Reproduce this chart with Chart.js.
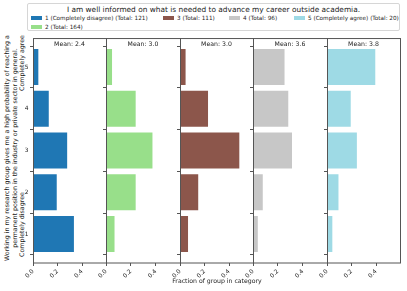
<!DOCTYPE html>
<html>
<head>
<meta charset="utf-8">
<script src="https://cdn.jsdelivr.net/npm/chart.js@4.4.0/dist/chart.umd.min.js"></script>
<style>
  body { margin: 0; background: #fff; font-family: "DejaVu Sans", sans-serif; color: #222; }
  #wrap { position: relative; width: 407px; height: 291px; overflow: hidden; background: #fff; }
  canvas { position: absolute; }
  .abs { position: absolute; white-space: nowrap; }
  #legend { position: absolute; left: 27px; top: 3px; width: 371px; height: 26px;
            border: 1px solid #d6d6d6; border-radius: 2px; background: #fff; z-index: 5; }
  #legend .title { position: absolute; left: 0; right: 0; top: 1px; text-align: center; font-size: 7.4px; }
  #legend .item { position: absolute; font-size: 5.7px; line-height: 7px; }
  #legend .sw { display: inline-block; width: 11px; height: 4px; margin-right: 3px; vertical-align: 0px; }
  #ylab { position: absolute; left: 148px; top: 148px; width: 240px; transform-origin: 0 0;
          font-size: 6.3px; line-height: 7.6px; text-align: center; }
  #xlab { left: 0; width: 434px; top: 277px; text-align: center; font-size: 6.2px; color: #222; z-index: 6; }
</style>
</head>
<body>
<div id="wrap">
  <div id="legend"><div class="title">I am well informed on what is needed to advance my career outside academia.</div></div>
  <div id="ylab"></div>
  <div class="abs" id="xlab">Fraction of group in category</div>
</div>
<script>
// answers on the y axis (1 = completely disagree ... 5 = completely agree)
const categories = [1, 2, 3, 4, 5];
// groups, one panel each
const groupNames = ["1 (Completely disagree)", "2", "3", "4", "5 (Completely agree)"];
const groupTotals = [121, 164, 111, 96, 20];
const groupMeans = [2.4, 3.0, 3.0, 3.6, 3.8];
const colors = ["#1f77b4", "#98df8a", "#8c564b", "#c7c7c7", "#9edae5"];
// fraction of group in each category (1..5)
const frac1 = [0.34, 0.20, 0.285, 0.135, 0.05];
const frac2 = [0.075, 0.245, 0.38, 0.245, 0.055];
const frac3 = [0.072, 0.155, 0.49, 0.235, 0.052];
const frac4 = [0.045, 0.085, 0.32, 0.29, 0.26];
const frac5 = [0.05, 0.10, 0.25, 0.20, 0.40];
const fractions = [frac1, frac2, frac3, frac4, frac5];
const xTicks = [0, 0.2, 0.4];

const wrap = document.getElementById("wrap");

// legend (matplotlib ncol=4 layout)
const legendPos = [[3, 11], [3, 19.5], [135, 11], [201, 11], [266, 11]];
const legend = document.getElementById("legend");
groupNames.forEach((n, i) => {
  const d = document.createElement("div");
  d.className = "item";
  d.style.left = legendPos[i][0] + "px";
  d.style.top = legendPos[i][1] + "px";
  d.innerHTML = '<span class="sw" style="background:' + colors[i] + '"></span>' +
    n + " (Total: " + groupTotals[i] + ")";
  legend.appendChild(d);
});

// y label, three lines
const ylab = document.getElementById("ylab");
ylab.innerHTML =
  "<div>Working in my research group gives me a high probability of reaching a</div>" +
  "<div>permanent position in the industry or private sector in general.</div>" +
  '<div style="display:flex;justify-content:space-between;width:222px;margin-left:11px">' +
  "<span>Completely disagree</span><span>Completely agree</span></div>";
ylab.style.transform = "rotate(-90deg) translate(-120px, -145px)";

const boxPlugin = {
  id: "box",
  afterDraw(chart) {
    const a = chart.chartArea, ctx = chart.ctx;
    ctx.save();
    ctx.strokeStyle = "#555";
    ctx.lineWidth = 1;
    ctx.strokeRect(a.left + 0.5, a.top + 0.5, a.right - a.left, a.bottom - a.top - 0.5);
    ctx.fillStyle = "#222";
    ctx.font = "6.2px 'DejaVu Sans'";
    ctx.textAlign = "center";
    ctx.textBaseline = "top";
    ctx.fillText("Mean: " + chart.options.plugins.box.mean.toFixed(1), (a.left + a.right) / 2, a.top + 3);
    ctx.restore();
  }
};

const panelLeft = [33, 106, 180, 253, 327];
const panelW = [73, 74, 73, 74, 73];
const PADL = 14, PADR = 10, PLOT_H = 230, BOTTOM = 20;

fractions.forEach((vals, i) => {
  const c = document.createElement("canvas");
  c.width = PADL + panelW[i] + PADR;
  c.height = PLOT_H + BOTTOM;
  c.style.left = (panelLeft[i] - PADL) + "px";
  c.style.top = "33px";
  wrap.appendChild(c);
  new Chart(c.getContext("2d"), {
    type: "bar",
    data: {
      datasets: [{
        data: categories.map((cat, k) => ({ x: vals[k], y: cat })),
        backgroundColor: colors[i],
        borderColor: "rgba(255,255,255,0.5)",
        borderWidth: 0.8,
        barPercentage: 0.9,
        categoryPercentage: 1
      }]
    },
    options: {
      indexAxis: "y",
      responsive: false,
      animation: false,
      devicePixelRatio: 1,
      layout: { padding: { left: 0, right: PADR, top: 0, bottom: 0 } },
      plugins: { legend: { display: false }, tooltip: { enabled: false }, box: { mean: groupMeans[i] } },
      scales: {
        x: {
          type: "linear", min: 0, max: 0.595,
          afterBuildTicks: s => { s.ticks = xTicks.map(v => ({ value: v })); },
          afterFit: s => { s.height = BOTTOM; },
          ticks: { minRotation: 45, maxRotation: 45, padding: 2, color: "#222",
                   font: { family: "DejaVu Sans", size: 5.9 }, callback: v => v.toFixed(1) },
          grid: { drawOnChartArea: false, tickLength: 3, color: "#555" },
          border: { display: false }
        },
        y: {
          type: "linear", min: 0.305, max: 5.695, offset: false,
          afterBuildTicks: s => { s.ticks = categories.map(v => ({ value: v })); },
          afterFit: s => { s.width = PADL; },
          ticks: { padding: 1.5, color: "#222", font: { family: "DejaVu Sans", size: 5.9 },
                   callback: v => (i === 0 ? String(v) : "") },
          grid: { drawOnChartArea: false, tickLength: 3, color: "#555" },
          border: { display: false }
        }
      }
    },
    plugins: [boxPlugin]
  });
});
</script>
</body>
</html>
